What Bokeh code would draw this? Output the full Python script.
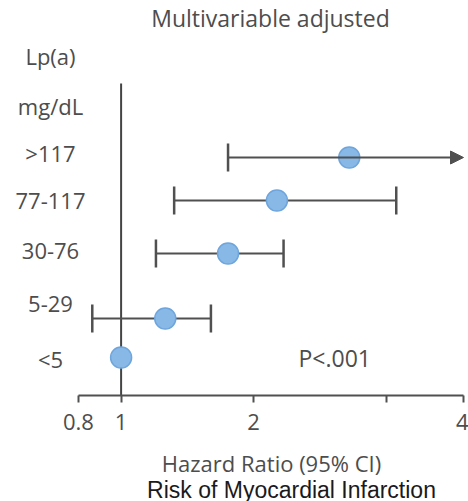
import numpy as np
from bokeh.plotting import figure
from bokeh.models import (Range1d, FixedTicker, Label, LabelSet, ColumnDataSource,
                          Arrow, NormalHead)
from bokeh.core.properties import value
from bokeh.embed import file_html
from bokeh.resources import INLINE

# Lp(a) groups (mg/dL), hazard ratios of myocardial infarction with 95% CI
groups = ["<5", "5-29", "30-76", "77-117", ">117"]
hazard_ratio = [1.0, 1.26, 1.75, 2.26, 3.30]
ci_low = [None, 0.86, 1.20, 1.32, 1.75]
ci_high = [None, 1.60, 2.34, 4.22, None]   # None on >117: interval runs past the axis
tick_values = [0.8, 1, 2, 4, 6]
tick_labels = ["0.8", "1", "2", "", "4"]
p_value_text = "P<.001"

# layout: the plot frame fills the canvas; 50 px per row unit vertically
AX_MIN, AX_MAX = 0.8, 6.0          # extent of the drawn hazard-ratio axis
X_LO, X_HI = 0.532, 6.159          # visible range (room for the labels on the left)
Y_LO, Y_HI = -2.88, 7.14
AXIS_Y = -0.76
row_y = [0.0, 0.78, 2.08, 3.14, 4.0]        # vertical slot of each estimate
label_y = [-0.02, 1.08, 2.14, 3.14, 4.10]   # vertical slot of each group label
LABEL_X = 50                                 # screen x of the group label column
GRAY = "#4d4d4d"
LINE = "#505050"
FONT = "Open Sans"

p = figure(width=468, height=501, output_backend="svg", toolbar_location=None,
           x_axis_type="log", x_range=Range1d(X_LO, X_HI),
           y_range=Range1d(Y_LO, Y_HI), y_axis_location=None,
           min_border_left=0, min_border_right=0, min_border_top=0,
           min_border_bottom=0)
p.outline_line_color = None
p.xgrid.visible = False
p.ygrid.visible = False
p.background_fill_color = "white"
p.border_fill_color = "white"

# x axis, drawn inside the frame
ax = p.xaxis[0]
ax.fixed_location = AXIS_Y
ax.bounds = (AX_MIN, AX_MAX)
ax.ticker = FixedTicker(ticks=tick_values)
ax.major_label_overrides = dict(zip(tick_values, tick_labels))
ax.axis_line_color = LINE
ax.axis_line_width = 2
ax.major_tick_line_color = LINE
ax.major_tick_line_width = 2
ax.major_tick_in = 0
ax.major_tick_out = 7
ax.minor_tick_line_color = None
ax.major_label_standoff = 11
ax.major_label_text_font = FONT
ax.major_label_text_font_size = "22px"
ax.major_label_text_color = GRAY

# reference line at HR = 1
p.segment(x0=[1], x1=[1], y0=[AXIS_Y], y1=[5.48], line_color="#444444", line_width=2)

# confidence intervals
n = len(groups)
closed = [i for i in range(n) if ci_low[i] is not None and ci_high[i] is not None]
p.segment(x0=[ci_low[i] for i in closed], x1=[ci_high[i] for i in closed],
          y0=[row_y[i] for i in closed], y1=[row_y[i] for i in closed],
          line_color=LINE, line_width=2.2)
cap_x = [ci_low[i] for i in range(n) if ci_low[i] is not None] + \
        [ci_high[i] for i in range(n) if ci_high[i] is not None]
cap_y = [row_y[i] for i in range(n) if ci_low[i] is not None] + \
        [row_y[i] for i in range(n) if ci_high[i] is not None]
p.scatter(x=cap_x, y=cap_y, marker="dash", size=28, angle=np.pi / 2,
          line_color=LINE, line_width=2.5)
for i in range(n):
    if ci_low[i] is not None and ci_high[i] is None:
        p.add_layout(Arrow(end=NormalHead(size=13, fill_color=LINE, line_color=LINE),
                           x_start=ci_low[i], y_start=row_y[i], x_end=AX_MAX, y_end=row_y[i],
                           line_color=LINE, line_width=2.2))

# point estimates
p.scatter(x=hazard_ratio, y=row_y, marker="circle", size=21,
          fill_color="#88b8e6", line_color="#6ea5dc", line_width=1.5)

# group labels and headers
lab_src = ColumnDataSource(dict(y=label_y, text=groups))
p.add_layout(LabelSet(x=LABEL_X, y="y", text="text", source=lab_src, x_units="screen",
                      text_align="center", text_baseline="middle",
                      text_font=value(FONT), text_font_size=value("22px"),
                      text_color=GRAY))
for txt, yy in [("mg/dL", 5.04), ("Lp(a)", 6.04)]:
    p.add_layout(Label(x=LABEL_X, y=yy, x_units="screen", text=txt, text_align="center",
                       text_baseline="middle", text_font=FONT, text_font_size="22px",
                       text_color=GRAY))

p.add_layout(Label(x=270, y=6.80, x_units="screen", text="Multivariable adjusted",
                   text_align="center", text_baseline="middle", text_font=FONT,
                   text_font_size="23px", text_color=GRAY))
p.add_layout(Label(x=298, y=row_y[0], x_units="screen", text=p_value_text,
                   text_align="left", text_baseline="middle", text_font=FONT,
                   text_font_size="23px", text_color=GRAY))
p.add_layout(Label(x=271, y=-2.10, x_units="screen", text="Hazard Ratio (95% CI)",
                   text_align="center", text_baseline="middle", text_font=FONT,
                   text_font_size="22px", text_color=GRAY))
p.add_layout(Label(x=291, y=-2.64, x_units="screen", text="Risk of Myocardial Infarction",
                   text_align="center", text_baseline="middle",
                   text_font="Liberation Sans", text_font_size="23px",
                   text_color="#1a1a1a"))

open("out.html", "w").write(file_html(p, INLINE))
